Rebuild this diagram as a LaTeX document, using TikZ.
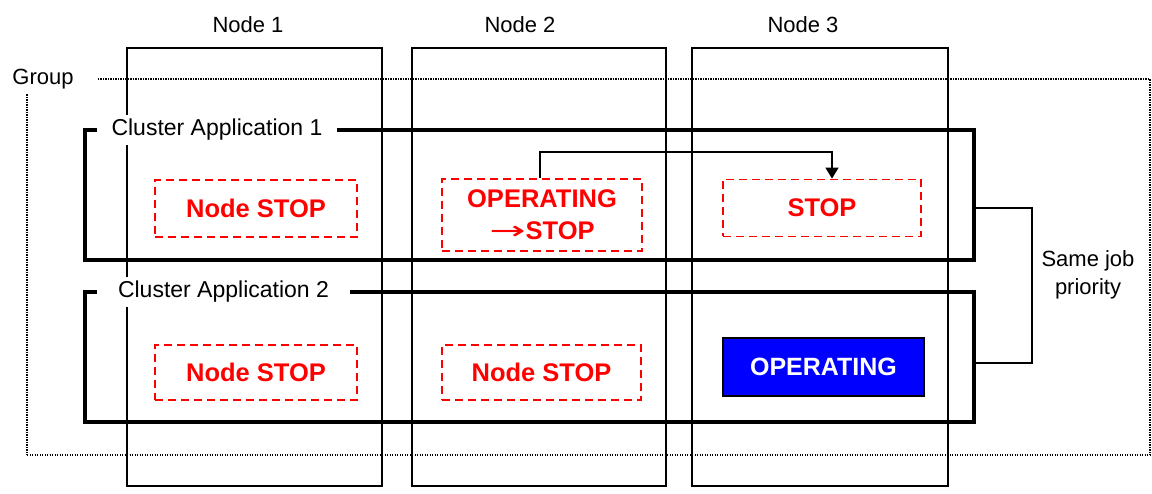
\documentclass[tikz,border=0pt]{standalone}
\usepackage{fontspec}
\setmainfont{Liberation Sans}
\newfontfamily\arrowfont{DejaVu Sans}
\usetikzlibrary{arrows.meta}
\begin{document}
\begin{tikzpicture}[x=1pt,y=-1pt,
  lbl/.style={font=\fontsize{22}{28}\selectfont, inner sep=0pt},
  colbox/.style={draw, line width=1.3pt, minimum height=438pt, inner sep=0pt},
  grpbox/.style={draw, line width=1.1pt, dash pattern=on 1.1pt off 1.4pt, inner sep=0pt},
  clbox/.style={draw, line width=3.5pt, inner sep=0pt, minimum width=889pt, minimum height=130pt},
  cllbl/.style={fill=white, font=\fontsize{23}{28}\selectfont, inner sep=0pt, minimum height=30pt},
  redbox/.style={draw=red, line width=1.8pt, dash pattern=on 8pt off 5pt, text=red,
    font=\bfseries\fontsize{25.5}{32}\selectfont, align=center, inner sep=0pt},
  bluebox/.style={draw=black, line width=1.3pt, fill={rgb,255:red,0;green,0;blue,255}, text=white,
    font=\bfseries\fontsize{25}{32}\selectfont, inner sep=0pt},
  conn/.style={line width=1.3pt},
]
\useasboundingbox (0,0) rectangle (1152,494);
% group
\node[grpbox, minimum width=1123pt, minimum height=376pt] (grp) at (588.5,267) {};
\node[lbl, fill=white, minimum width=108pt, minimum height=30pt] (grplbl) at (43,79) {Group};
% columns
\node[colbox, minimum width=255pt] (col1) at (254.5,267) {};
\node[colbox, minimum width=254pt] (col2) at (539,267) {};
\node[colbox, minimum width=256pt] (col3) at (820,267) {};
\node[lbl] (n1) at (248,25) {Node 1};
\node[lbl] (n2) at (520,25) {Node 2};
\node[lbl] (n3) at (803,25) {Node 3};
% clusters
\node[clbox] (ca1) at (529.5,195) {};
\node[clbox] (ca2) at (529.5,357) {};
\node[cllbl, minimum width=240pt] (ca1lbl) at (217,130) {Cluster Application 1};
\node[cllbl, minimum width=253pt] (ca2lbl) at (223.5,292) {Cluster Application 2};
% state boxes
\node[redbox, minimum width=202pt, minimum height=57pt] (ns1) at (256,208.5) {Node STOP};
\node[redbox, minimum width=200pt, minimum height=72pt] (op2) at (542,215) {OPERATING\\{\arrowfont\mdseries\scalebox{1.7}[1]{→}}STOP};
\node[redbox, minimum width=198pt, minimum height=57pt] (st3) at (822,208) {STOP};
\node[redbox, minimum width=202pt, minimum height=55pt] (ns1b) at (256,372.5) {Node STOP};
\node[redbox, minimum width=199pt, minimum height=55pt] (ns2b) at (541.5,372.5) {Node STOP};
\node[bluebox, minimum width=201pt, minimum height=58pt] (opb) at (823.5,367) {OPERATING};
% arrow
\coordinate (a1) at (540,152);
\coordinate (a2) at (832,152);
\draw[conn, -{Triangle[width=13pt,length=11pt]}] (op2.north -| a1) -- (a1) -- (a2) -- (st3.north -| a2);
% same priority bracket
\coordinate (b1) at (1032,208);
\coordinate (b2) at (1032,363);
\draw[conn] (ca1.east |- b1) -- (b1) -- (b2) -- (ca2.east |- b2);
\node[lbl, align=center] (same) at (1088,275) {Same job\\priority};
\end{tikzpicture}
\end{document}
